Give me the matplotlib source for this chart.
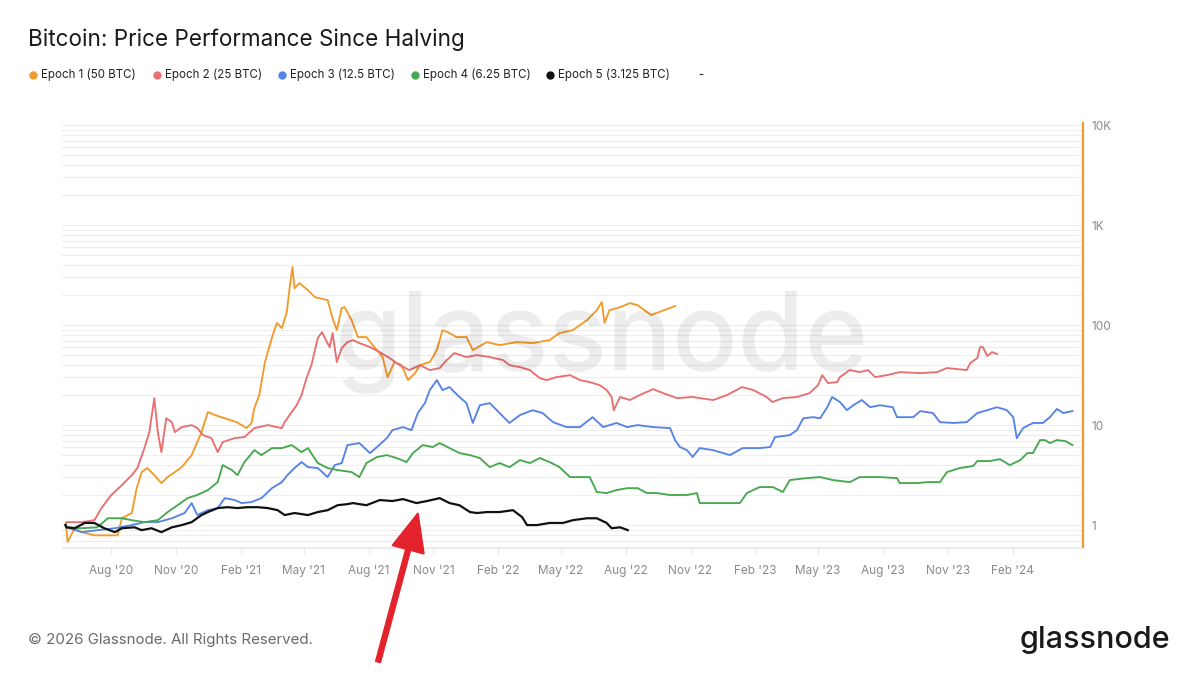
"""
Bitcoin price performance since each halving, glassnode style.
"""
import numpy as np
import matplotlib.pyplot as plt
import matplotlib.dates as mdates
from matplotlib.patches import FancyArrow
from matplotlib.transforms import IdentityTransform


# every epoch is days since its own start; the shared axis is labelled in dates
# starting from this origin (placed so the month ticks sit where glassnode draws them)
AXIS_ORIGIN = np.datetime64('2020-05-28')

epoch1_days = [0, 1, 3, 13, 23, 41, 74, 80, 94, 101, 108, 116, 126, 136, 145, 165, 179, 187,
               193, 202, 212, 226, 243, 257, 264, 268, 275, 283, 294, 300, 307, 314, 318, 322,
               325, 332, 344, 354, 372, 379, 385, 392, 396, 406, 415, 427, 436, 450, 457, 467,
               477, 486, 496, 503, 517, 527, 535, 545, 555, 569, 578, 598, 616, 640, 663, 687,
               701, 720, 740, 754, 761, 765, 772, 787, 801, 812, 831, 846, 865]
epoch1_vals = [1.0, 0.95, 0.68, 0.93, 0.85, 0.79, 0.79, 1.17, 1.32, 2.34, 3.39, 3.72, 3.16,
               2.63, 3.02, 3.8, 5.01, 6.76, 8.51, 13.5, 12.6, 11.7, 10.7, 9.33, 10.5, 14.8,
               20.0, 42.7, 79.4, 105, 93.3, 135, 234, 380, 234, 263, 224, 190, 178, 117, 89.1,
               148, 151, 112, 75.9, 75.9, 63.1, 47.9, 30.2, 42.7, 39.8, 28.2, 33.1, 39.8, 42.7,
               56.2, 89.1, 83.2, 75.9, 75.9, 56.2, 67.6, 63.1, 67.6, 66.1, 70.8, 83.2, 89.1,
               112, 141, 170, 105, 141, 151, 166, 158, 126, 138, 155]

epoch2_days = [0, 1, 23, 41, 51, 65, 80, 94, 102, 112, 119, 126, 131, 136, 143, 151, 155, 165,
               179, 187, 195, 207, 216, 223, 240, 254, 268, 287, 307, 311, 321, 328, 335, 342,
               349, 358, 364, 371, 375, 379, 385, 392, 400, 408, 417, 432, 446, 460, 474, 488,
               503, 517, 531, 541, 552, 569, 584, 602, 621, 630, 645, 659, 673, 683, 697, 716,
               730, 744, 758, 768, 775, 778, 787, 801, 815, 834, 848, 868, 890, 919, 939, 960,
               976, 995, 1003, 1018, 1038, 1056, 1068, 1074, 1082, 1095, 1099, 1113, 1127,
               1139, 1149, 1166, 1184, 1213, 1237, 1251, 1279, 1284, 1294, 1298, 1302, 1308,
               1315, 1322]
epoch2_vals = [1.0, 1.07, 1.07, 1.12, 1.48, 2.0, 2.51, 3.16, 3.72, 5.89, 8.51, 18.6, 8.51,
               5.37, 11.7, 10.7, 8.51, 9.55, 10.0, 9.33, 7.94, 7.41, 5.37, 6.76, 7.41, 7.59,
               9.33, 10.0, 9.33, 10.7, 13.5, 15.8, 20.0, 29.5, 39.8, 74.1, 85.1, 67.6, 60.3,
               83.2, 42.7, 58.9, 67.6, 70.8, 66.1, 60.3, 53.7, 46.8, 39.8, 35.5, 39.8, 35.5,
               37.2, 44.7, 52.5, 47.9, 50.1, 47.9, 44.7, 39.8, 38.0, 35.5, 29.5, 28.2, 30.2,
               31.6, 28.2, 26.9, 25.1, 22.4, 19.1, 14.1, 19.1, 17.8, 20.0, 22.9, 20.9, 18.6,
               19.1, 17.8, 20.0, 24.0, 22.4, 19.1, 17.0, 18.6, 19.1, 20.9, 25.1, 31.6, 26.3,
               26.9, 30.2, 35.5, 33.9, 35.5, 30.2, 31.6, 33.9, 33.1, 33.9, 37.2, 35.5, 41.7,
               46.8, 60.3, 60.3, 49.0, 53.7, 51.3]

epoch3_days = [0, 1, 23, 45, 70, 94, 112, 131, 151, 169, 179, 187, 202, 216, 226, 240, 250,
               264, 278, 293, 307, 315, 325, 335, 344, 358, 372, 382, 392, 400, 417, 432, 442,
               456, 464, 479, 491, 500, 510, 517, 527, 535, 545, 559, 569, 578, 588, 602, 616,
               630, 645, 663, 677, 692, 711, 730, 748, 763, 782, 797, 812, 834, 858, 865, 872,
               882, 890, 900, 919, 943, 961, 985, 1000, 1007, 1028, 1038, 1047, 1061, 1071,
               1081, 1088, 1099, 1109, 1118, 1130, 1142, 1156, 1174, 1180, 1203, 1213, 1231,
               1241, 1260, 1279, 1294, 1308, 1322, 1336, 1345, 1350, 1359, 1373, 1387, 1397,
               1407, 1416, 1429]
epoch3_vals = [1.0, 0.95, 0.85, 0.89, 0.93, 1.0, 1.07, 1.07, 1.17, 1.32, 1.66, 1.26, 1.41,
               1.48, 1.86, 1.78, 1.66, 1.7, 1.86, 2.34, 2.69, 3.16, 3.72, 4.27, 3.8, 3.72,
               3.02, 3.98, 4.17, 6.31, 6.61, 5.25, 6.03, 7.41, 8.91, 9.55, 8.91, 13.2, 16.6,
               22.4, 28.2, 22.4, 24.0, 19.1, 16.6, 10.5, 15.8, 16.6, 13.2, 10.5, 12.6, 14.1,
               13.2, 10.7, 9.55, 9.55, 12.0, 9.55, 10.5, 9.55, 10.0, 9.55, 9.33, 7.08, 6.03,
               5.62, 4.79, 5.89, 5.62, 5.01, 5.89, 5.89, 6.03, 7.59, 7.94, 8.91, 11.7, 12.0,
               11.7, 15.1, 19.1, 17.0, 14.1, 15.8, 17.8, 15.1, 15.8, 15.1, 12.0, 12.0, 13.8,
               13.2, 10.7, 10.5, 10.7, 13.2, 14.1, 15.1, 14.1, 12.0, 7.41, 9.33, 10.5, 10.5,
               12.0, 14.5, 13.2, 13.8]

epoch4_days = [0, 1, 23, 45, 60, 80, 94, 112, 131, 145, 159, 173, 187, 202, 216, 223, 236,
               244, 254, 268, 278, 293, 307, 321, 335, 344, 358, 372, 386, 406, 417, 427, 442,
               456, 470, 484, 493, 507, 521, 531, 545, 559, 574, 588, 602, 616, 630, 645, 659,
               673, 687, 701, 716, 730, 744, 754, 768, 782, 797, 812, 825, 839, 858, 882, 896,
               900, 919, 943, 957, 967, 985, 1004, 1018, 1028, 1052, 1071, 1089, 1113, 1127,
               1156, 1180, 1184, 1208, 1223, 1241, 1251, 1269, 1288, 1294, 1312, 1326, 1340,
               1355, 1365, 1373, 1383, 1390, 1397, 1407, 1419, 1429]
epoch4_vals = [1.0, 0.95, 0.93, 0.95, 1.17, 1.17, 1.12, 1.07, 1.12, 1.35, 1.58, 1.86, 2.0,
               2.24, 2.69, 3.98, 3.55, 3.16, 4.27, 5.62, 5.01, 5.89, 5.89, 6.31, 5.37, 5.89,
               4.17, 3.72, 3.55, 3.39, 3.02, 4.17, 4.79, 5.01, 4.68, 4.27, 5.25, 6.31, 6.03,
               6.61, 5.89, 5.25, 5.01, 4.68, 3.8, 4.17, 3.8, 4.47, 4.17, 4.68, 4.27, 3.8, 3.02,
               3.02, 3.02, 2.14, 2.09, 2.24, 2.34, 2.34, 2.09, 2.09, 2.0, 2.0, 2.09, 1.66, 1.66,
               1.66, 1.66, 2.09, 2.4, 2.4, 2.14, 2.82, 2.95, 3.02, 2.82, 2.69, 3.02, 3.02, 2.95,
               2.63, 2.63, 2.69, 2.69, 3.39, 3.72, 3.89, 4.37, 4.37, 4.57, 3.98, 4.47, 5.25,
               5.25, 7.08, 7.08, 6.61, 7.08, 6.92, 6.31]

epoch5_days = [0, 1, 13, 27, 41, 55, 70, 80, 98, 108, 122, 136, 151, 165, 179, 193, 202, 216,
               230, 244, 258, 273, 287, 301, 311, 325, 344, 358, 372, 386, 400, 408, 427, 446,
               464, 479, 498, 513, 531, 545, 559, 574, 584, 598, 616, 635, 648, 655, 669, 687,
               706, 720, 740, 754, 768, 775, 787, 798]
epoch5_vals = [1.0, 0.95, 0.93, 1.05, 1.05, 0.93, 0.85, 0.93, 0.95, 0.89, 0.93, 0.85, 0.95,
               1.0, 1.07, 1.26, 1.35, 1.48, 1.51, 1.48, 1.51, 1.51, 1.48, 1.41, 1.26, 1.32,
               1.26, 1.35, 1.41, 1.58, 1.62, 1.66, 1.58, 1.78, 1.74, 1.82, 1.66, 1.74, 1.86,
               1.66, 1.58, 1.35, 1.32, 1.35, 1.35, 1.41, 1.2, 1.0, 1.0, 1.05, 1.05, 1.12, 1.17,
               1.17, 1.05, 0.93, 0.95, 0.89]

series_labels = ['Epoch 1 (50 BTC)', 'Epoch 2 (25 BTC)', 'Epoch 3 (12.5 BTC)',
                 'Epoch 4 (6.25 BTC)', 'Epoch 5 (3.125 BTC)']
series_colors = ['#f39a2b', '#ea6f70', '#5683e6', '#48a84f', '#111111']
legend_dot_x = [33, 157, 282, 415, 550]

# quarterly month ticks, Aug '20 .. Feb '24
x_ticks = np.arange('2020-08', '2024-03', 3, dtype='datetime64[M]').astype('datetime64[D]')
y_ticks = [1, 10, 100, 1000, 10000]
y_tick_labels = ['1', '10', '100', '1K', '10K']

W, H = 1200, 674


def to_dates(days):
    """days since the epoch start -> dates on the shared axis"""
    return AXIS_ORIGIN + np.array(days).astype('timedelta64[D]')


def fx(px):
    return px / W


def fy(py):
    return 1 - py / H


def main():
    plt.rcParams['font.family'] = ['Inter', 'DejaVu Sans']
    fig = plt.figure(figsize=(W / 100, H / 100), dpi=100)
    fig.patch.set_facecolor('white')

    ax = fig.add_axes([fx(62), fy(548), fx(1083) - fx(62), fy(123) - fy(548)])

    # watermark behind the lines
    fig.text(fx(602), fy(370), 'glassnode', fontsize=78, color='#000000', alpha=0.07,
             ha='center', va='baseline', fontweight='medium', zorder=0)
    ax.patch.set_alpha(0)

    days = [epoch1_days, epoch2_days, epoch3_days, epoch4_days, epoch5_days]
    vals = [epoch1_vals, epoch2_vals, epoch3_vals, epoch4_vals, epoch5_vals]
    for i in range(5):
        lw = 1.6 if i == 4 else 1.35
        ax.plot(to_dates(days[i]), vals[i], color=series_colors[i], lw=lw, zorder=3 + i)

    ax.set_yscale('log')
    ax.set_ylim(0.59, 10500)
    ax.set_xlim(to_dates([-5])[0], to_dates([1444])[0])

    ax.yaxis.tick_right()
    ax.set_yticks(y_ticks)
    ax.set_yticklabels(y_tick_labels)
    ax.tick_params(axis='y', which='both', length=0, pad=6, labelsize=8.5, labelcolor='#8a8a8a')
    ax.yaxis.grid(True, which='both', color='#eeeeee', lw=0.8)
    ax.set_axisbelow(True)

    ax.set_xticks(x_ticks)
    ax.xaxis.set_major_formatter(mdates.DateFormatter("%b '%y"))
    ax.tick_params(axis='x', length=4, color='#e6e6e6', pad=8, labelsize=8.5,
                   labelcolor='#8a8a8a')

    for s in ['left', 'top']:
        ax.spines[s].set_visible(False)
    ax.spines['bottom'].set_color('#ececec')
    ax.spines['right'].set_color('#f39a2b')
    ax.spines['right'].set_linewidth(1.6)

    # title and legend row
    fig.text(fx(28), fy(40), 'Bitcoin: Price Performance Since Halving', fontsize=16.2,
             color='#1a1a1a', va='center', ha='left')
    for i in range(5):
        fig.add_artist(plt.Line2D([fx(legend_dot_x[i])], [fy(75)], marker='o', markersize=5,
                                  color=series_colors[i], transform=fig.transFigure))
        fig.text(fx(legend_dot_x[i] + 8), fy(75), series_labels[i], fontsize=8.3,
                 color='#222222', va='center', ha='left')
    fig.text(fx(698), fy(75), '-', fontsize=8.3, color='#222222', va='center', ha='left')

    # footer
    fig.text(fx(28), fy(640), '\u00a9 2026 Glassnode. All Rights Reserved.', fontsize=10.9,
             color='#6b6b6b', va='center', ha='left')
    fig.text(fx(1170), fy(640), 'glassnode', fontsize=22, color='#1a1a1a', va='center',
             ha='right', fontweight='medium')

    # red arrow pointing at the epoch 5 peak
    arrow = FancyArrow(378, H - 662, 40, 149, width=5, head_width=33, head_length=38,
                       length_includes_head=True, color='#e3222b', transform=IdentityTransform())
    fig.add_artist(arrow)

    fig.savefig('out.png', dpi=100, facecolor='white')


if __name__ == "__main__":
    main()
